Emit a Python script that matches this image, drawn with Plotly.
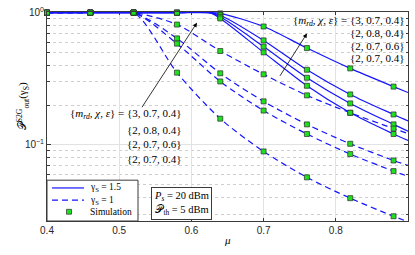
import plotly.graph_objects as go

# ---------------- data ----------------
mu_sim = [0.40, 0.46, 0.52, 0.58, 0.64, 0.70, 0.76, 0.82, 0.88]

# gamma_S = 1.5 (solid), analytical curve points
mu_solid = [0.40, 0.46, 0.52, 0.58, 0.625, 0.64, 0.70, 0.76, 0.82, 0.88, 0.90]
s1 = [1, 1, 1, 1, 1, 0.987, 0.786, 0.540, 0.379, 0.276, 0.249]
s2 = [1, 1, 1, 1, 1, 0.957, 0.617, 0.370, 0.241, 0.170, 0.152]
s3 = [1, 1, 1, 1, 1, 0.930, 0.554, 0.322, 0.206, 0.143, 0.127]
s4 = [1, 1, 1, 1, 1, 0.904, 0.501, 0.280, 0.175, 0.121, 0.108]

# gamma_S = 1 (dashed)
mu_dash = [0.40, 0.46, 0.52, 0.58, 0.64, 0.70, 0.76, 0.82, 0.88, 0.90]
d1 = [1, 1, 1, 0.813, 0.513, 0.342, 0.237, 0.175, 0.133, 0.122]
d2 = [1, 1, 1, 0.639, 0.348, 0.2135, 0.143, 0.102, 0.0763, 0.070]
d3 = [1, 1, 1, 0.583, 0.302, 0.182, 0.121, 0.0853, 0.0634, 0.058]
d4 = [1, 1, 1, 0.352, 0.158, 0.0893, 0.0569, 0.0396, 0.0289, 0.0263]

# simulation points (at mu_sim)
sim_s1 = [1, 1, 1, 1, 0.987, 0.786, 0.540, 0.379, 0.276]
sim_s2 = [1, 1, 1, 1, 0.957, 0.617, 0.370, 0.241, 0.170]
sim_s3 = [1, 1, 1, 1, 0.930, 0.554, 0.322, 0.206, 0.143]
sim_s4 = [1, 1, 1, 1, 0.904, 0.501, 0.280, 0.175, 0.121]
sim_d1 = [1, 1, 1, 0.813, 0.513, 0.342, 0.237, 0.175, 0.133]
sim_d2 = [1, 1, 1, 0.639, 0.348, 0.2135, 0.143, 0.102, 0.0763]
sim_d3 = [1, 1, 1, 0.583, 0.302, 0.182, 0.121, 0.0853, 0.0634]
sim_d4 = [1, 1, 1, 0.352, 0.158, 0.0893, 0.0569, 0.0396, 0.0289]

param_labels = ["{3, 0.7, 0.4}", "{2, 0.8, 0.4}", "{2, 0.7, 0.6}", "{2, 0.7, 0.4}"]
legend_labels = ["γ<sub>S</sub> = 1.5", "γ<sub>S</sub> = 1", "Simulation"]
x_ticks = [0.4, 0.5, 0.6, 0.7, 0.8, 0.9]
x_tick_text = ["0.4", "0.5", "0.6", "0.7", "0.8", "0.9"]
y_major = [0.1, 1]
y_major_text = ["10<sup>−1</sup>", "10<sup>0</sup>"]
y_minor = [0.03, 0.04, 0.05, 0.06, 0.07, 0.08, 0.09, 0.2, 0.3, 0.4, 0.5, 0.6, 0.7, 0.8, 0.9]

# ---------------- styling ----------------
BLUE = "#1414ff"
GREEN = "#1fe01f"
SERIF = "Liberation Serif, DejaVu Serif, serif"
SANS = "Liberation Sans, Arial, sans-serif"
AX = "#3a3a3a"
LW = 1.2
DASH = "6px,4px"

fig = go.Figure()

for ys in [s1, s2, s3, s4]:
    fig.add_trace(go.Scatter(
        x=mu_solid, y=ys, mode="lines", showlegend=False,
        line=dict(color=BLUE, width=LW, shape="spline", smoothing=0.8)))
for ys in [d1, d2, d3, d4]:
    fig.add_trace(go.Scatter(
        x=mu_dash, y=ys, mode="lines", showlegend=False,
        line=dict(color=BLUE, width=LW, dash=DASH, shape="spline", smoothing=0.8)))
for ys in [sim_s1, sim_s2, sim_s3, sim_s4, sim_d1, sim_d2, sim_d3, sim_d4]:
    fig.add_trace(go.Scatter(
        x=mu_sim, y=ys, mode="markers", cliponaxis=False, showlegend=False,
        marker=dict(symbol="square", size=5, color=GREEN,
                    line=dict(color="#2a2a2a", width=0.7))))

yr = [-1.575, 0.005]
fig.update_layout(
    width=415, height=255,
    margin=dict(l=47, r=7, t=6, b=34),
    paper_bgcolor="white", plot_bgcolor="white",
    showlegend=False,
    xaxis=dict(range=[0.4, 0.9], tickmode="array", tickvals=x_ticks, ticktext=x_tick_text,
               showgrid=True, gridcolor="#e2e2e2", gridwidth=1,
               showline=True, linecolor=AX, linewidth=1, mirror="ticks",
               ticks="inside", ticklen=3, tickcolor=AX,
               tickfont=dict(family=SANS, size=10, color="#262626"),
               zeroline=False),
    yaxis=dict(type="log", range=yr, tickmode="array", tickvals=y_major, ticktext=y_major_text,
               showgrid=True, gridcolor="#e2e2e2", gridwidth=1,
               showline=True, linecolor=AX, linewidth=1, mirror="ticks",
               ticks="inside", ticklen=4, tickcolor=AX, ticklabeloverflow="allow",
               tickfont=dict(family=SANS, size=10, color="#262626"),
               zeroline=False,
               minor=dict(tickmode="array", tickvals=y_minor, ticks="inside",
                          ticklen=2.5, tickcolor=AX, showgrid=True,
                          gridcolor="#cfcfcf", gridwidth=1, griddash="dot")),
)

# ---------------- annotations ----------------
def xp(px):
    return (px - 47) / 361.0

def yp(py):
    return (221 - py) / 215.0

ann = []
head = "{<i>m</i><sub><i>rd</i></sub>, <i>χ</i>, <i>ε</i>} = "
left_y = [111, 127, 142, 157]
right_y = [15, 28, 41, 53]
for k, lab in enumerate(param_labels):
    txt = (head + lab) if k == 0 else lab
    ann.append(dict(x=xp(184), y=yp(left_y[k]), xref="paper", yref="paper",
                    xanchor="right", yanchor="middle", showarrow=False, text=txt,
                    font=dict(family=SERIF, size=11, color="black")))
    ann.append(dict(x=xp(407), y=yp(right_y[k]), xref="paper", yref="paper",
                    xanchor="right", yanchor="middle", showarrow=False, text=txt,
                    font=dict(family=SERIF, size=11, color="black")))

# arrows
ann.append(dict(x=xp(197), y=yp(17), xref="paper", yref="paper", text="",
                showarrow=True, ax=-56, ay=86, arrowhead=2, arrowsize=1.1,
                arrowwidth=0.8, arrowcolor="black"))
ann.append(dict(x=xp(307), y=yp(28), xref="paper", yref="paper", text="",
                showarrow=True, ax=-28, ay=44, arrowhead=2, arrowsize=1.1,
                arrowwidth=0.8, arrowcolor="black"))

# parameter box
ann.append(dict(x=xp(181.5), y=yp(203), xref="paper", yref="paper",
                xanchor="center", yanchor="middle", showarrow=False,
                text="<i>P<sub>s</sub></i> = 20 dBm<br>𝒫<sub>th</sub> = 5 dBm",
                align="center", bgcolor="white", bordercolor=AX, borderwidth=1,
                borderpad=2, font=dict(family=SERIF, size=10.5, color="black")))

# axis titles
ann.append(dict(x=xp(227), y=yp(249), xref="paper", yref="paper",
                showarrow=False, text="<i>μ</i>",
                font=dict(family=SERIF, size=11, color="black")))
ann.append(dict(x=xp(13), y=yp(103), xref="paper", yref="paper",
                showarrow=False, textangle=-90,
                text="𝒫<sup>S2G</sup><sub>out</sub>(γ<sub>S</sub>)",
                font=dict(family=SERIF, size=11, color="black")))

# legend (drawn as a boxed key)
leg_box = dict(type="rect", xref="paper", yref="paper",
               x0=xp(47), x1=xp(138), y0=yp(221), y1=yp(179),
               line=dict(color=AX, width=1), fillcolor="white", layer="above")
leg_rows = [187, 199.5, 211.5]
shapes = [leg_box,
          dict(type="line", xref="paper", yref="paper", x0=xp(52), x1=xp(84),
               y0=yp(leg_rows[0]), y1=yp(leg_rows[0]), layer="above",
               line=dict(color=BLUE, width=LW)),
          dict(type="line", xref="paper", yref="paper", x0=xp(52), x1=xp(84),
               y0=yp(leg_rows[1]), y1=yp(leg_rows[1]), layer="above",
               line=dict(color=BLUE, width=LW, dash=DASH)),
          dict(type="rect", xref="paper", yref="paper", x0=xp(66.5), x1=xp(71.5),
               y0=yp(leg_rows[2] + 2.5), y1=yp(leg_rows[2] - 2.5), layer="above",
               fillcolor=GREEN, line=dict(color="#2a2a2a", width=0.7))]
for k, lab in enumerate(legend_labels):
    ann.append(dict(x=xp(88), y=yp(leg_rows[k]), xref="paper", yref="paper",
                    xanchor="left", yanchor="middle", showarrow=False, text=lab,
                    font=dict(family=SERIF, size=9.5, color="black")))

fig.update_layout(annotations=ann, shapes=shapes)
fig.write_html("out.html", config={"displayModeBar": False},
               post_script="document.body.style.margin='0px';")
